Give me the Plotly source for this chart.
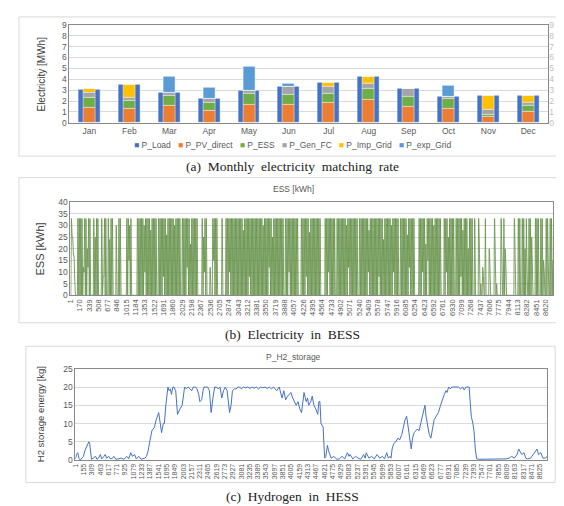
import plotly.graph_objects as go
import numpy as np

W, H = 564, 506

# ---------------- (a) monthly data [MWh] ----------------
months = ['Jan', 'Feb', 'Mar', 'Apr', 'May', 'Jun', 'Jul', 'Aug', 'Sep', 'Oct', 'Nov', 'Dec']
p_load = [3.05, 3.45, 2.75, 2.25, 2.95, 3.35, 3.70, 4.25, 3.15, 2.40, 2.45, 2.50]
p_pv_direct = [1.40, 1.30, 1.55, 1.15, 1.65, 1.70, 1.85, 2.15, 1.50, 1.25, 0.55, 1.00]
p_ess = [0.90, 0.70, 0.95, 0.70, 1.05, 0.90, 0.85, 1.00, 0.85, 0.95, 0.20, 0.55]
p_gen_fc = [0.50, 0.30, 0.25, 0.40, 0.25, 0.75, 0.65, 0.45, 0.75, 0.15, 0.45, 0.30]
p_imp_grid = [0.30, 1.15, 0.00, 0.00, 0.00, 0.00, 0.35, 0.65, 0.05, 0.00, 1.25, 0.65]
p_exp_grid = [0.00, 0.00, 1.45, 1.00, 2.15, 0.20, 0.00, 0.00, 0.00, 1.05, 0.00, 0.00]

# ---------------- (b) ESS daily peak / trough [kWh] ----------------
ess_day_peak = [
    33, 25, 17, 0, 0, 33, 33, 33, 33, 12, 33, 33, 20, 33, 33, 0, 0, 33, 25, 33,
    33, 0, 0, 33, 8, 33, 33, 0, 33, 24, 33, 33, 0, 0, 30, 0, 33, 33, 0, 0,
    0, 0, 33, 33, 30, 33, 0, 0, 0, 0, 33, 33, 33, 33, 33, 30, 33, 33, 33, 33,
    28, 33, 33, 33, 33, 0, 33, 33, 33, 33, 33, 33, 26, 33, 33, 33, 33, 33, 30, 33,
    33, 33, 33, 0, 33, 33, 33, 33, 33, 33, 22, 33, 33, 33, 33, 33, 0, 0, 0, 33,
    25, 33, 33, 0, 0, 12, 0, 33, 33, 33, 33, 0, 0, 0, 33, 0, 0, 33, 33, 33,
    33, 33, 33, 33, 33, 33, 33, 33, 33, 33, 28, 33, 33, 33, 33, 33, 33, 33, 33, 33,
    33, 33, 33, 33, 33, 30, 33, 33, 33, 33, 33, 33, 25, 33, 33, 33, 33, 33, 33, 33,
    33, 0, 33, 33, 33, 33, 33, 33, 33, 33, 33, 33, 0, 0, 33, 33, 33, 33, 33, 33,
    27, 33, 33, 33, 33, 33, 33, 33, 33, 0, 0, 0, 33, 33, 33, 33, 33, 33, 33, 33,
    0, 33, 33, 33, 33, 33, 33, 33, 30, 33, 33, 33, 33, 33, 33, 33, 33, 0, 33, 33,
    33, 33, 33, 33, 33, 28, 33, 33, 33, 33, 33, 33, 33, 33, 33, 33, 24, 33, 33, 33,
    33, 33, 30, 33, 33, 33, 33, 33, 0, 33, 33, 33, 33, 33, 26, 33, 33, 33, 33, 33,
    0, 0, 0, 33, 33, 33, 33, 33, 22, 33, 33, 33, 33, 33, 30, 33, 33, 33, 33, 33,
    0, 0, 33, 33, 33, 25, 33, 33, 33, 33, 0, 33, 33, 33, 33, 33, 28, 33, 33, 33,
    20, 33, 33, 33, 0, 33, 0, 0, 33, 0, 0, 12, 0, 33, 0, 0, 20, 0, 0, 0,
    33, 0, 0, 0, 0, 33, 0, 33, 20, 0, 0, 0, 0, 0, 0, 33, 0, 0, 33, 33,
    0, 33, 33, 20, 33, 0, 33, 33, 25, 0, 0, 33, 33, 33, 0, 33, 33, 15, 0, 33,
    33, 0, 33, 33, 15,
]
ess_low_days = [1, 2, 3, 10, 13, 25, 44, 56, 70, 88, 101, 108, 120, 135, 150, 165, 178, 195,
                210, 225, 233, 244, 256, 266, 270, 284, 295, 309, 310, 312, 317, 321, 322,
                326, 329, 336, 345, 349, 358, 361]
ess_low_vals = [25, 17, 6, 10, 12, 8, 15, 10, 8, 12, 10, 15, 10, 8, 12, 10, 8, 10,
                12, 10, 8, 10, 12, 10, 15, 10, 8, 18, 5, 8, 10, 15, 5,
                15, 12, 15, 10, 12, 10, 15]
ess_ticks = list(range(1, 8621, 169))

# ---------------- (c) H2 storage [kg] ----------------
h2_hours = [1, 20, 45, 65, 90, 120, 150, 175, 200, 225, 250, 265, 280, 300, 330, 375, 400, 430,
            463, 490, 530, 555, 580, 620, 650, 690, 715, 750, 800, 850, 900, 957, 990, 1030,
            1060, 1100, 1130, 1180, 1220, 1260, 1290, 1320, 1350, 1380, 1420, 1468, 1500, 1547,
            1570, 1600, 1633, 1652, 1679, 1718, 1740, 1764, 1784, 1810, 1830, 1863, 1896, 1920,
            1942, 1982, 2010, 2028, 2060, 2093, 2130, 2159, 2192, 2230, 2258, 2290, 2311, 2344,
            2370, 2390, 2420, 2455, 2488, 2521, 2554, 2587, 2620, 2650, 2686, 2718, 2750, 2784,
            2817, 2863, 2890, 2916, 2950, 2982, 3020, 3048, 3080, 3120, 3160, 3200, 3240, 3280,
            3320, 3360, 3400, 3440, 3480, 3520, 3560, 3600, 3640, 3680, 3706, 3738, 3784, 3837,
            3870, 3903, 3940, 3970, 4002, 4035, 4070, 4100, 4133, 4166, 4199, 4245, 4285, 4310,
            4331, 4370, 4397, 4429, 4462, 4480, 4500, 4520, 4540, 4560, 4580, 4600, 4615, 4630,
            4650, 4680, 4700, 4720, 4750, 4800, 4850, 4900, 4950, 5000, 5050, 5080, 5100, 5150,
            5200, 5250, 5300, 5350, 5380, 5400, 5450, 5500, 5550, 5600, 5650, 5700, 5740, 5780,
            5810, 5840, 5860, 5880, 5910, 5950, 5990, 6020, 6060, 6090, 6120, 6150, 6180, 6210,
            6235, 6260, 6290, 6320, 6350, 6380, 6410, 6440, 6470, 6490, 6510, 6540, 6570, 6600,
            6630, 6660, 6700, 6740, 6780, 6820, 6850, 6880, 6900, 6930, 6960, 6990, 7030, 7070,
            7110, 7150, 7190, 7220, 7250, 7280, 7310, 7330, 7350, 7380, 7400, 7425, 7450, 7500,
            7600, 7700, 7800, 7900, 8000, 8050, 8100, 8150, 8200, 8230, 8260, 8290, 8330, 8360,
            8400, 8450, 8500, 8540, 8570, 8600, 8640, 8680, 8720, 8760]
h2_vals = [0.3, 1.5, 2, 0.5, 0, 0.5, 1, 2.5, 3.5, 4, 5, 4.5, 3, 0.2, 0.5, 1, 0.2, 0.5,
           1.5, 0.3, 1, 1.5, 0.5, 1, 0.3, 0.5, 1, 0.2, 0.3, 0.5, 0.2, 1, 0.3, 2,
           1, 1.5, 0.3, 1, 0.2, 0.5, 0.5, 1, 2.5, 5, 8, 9, 11, 13,
           10, 7.5, 10, 10, 15, 20, 19, 19.5, 18, 20, 20, 19, 12.5, 13.5,
           14, 15, 18, 20, 19.5, 20, 19.5, 19, 20, 20, 19.5, 18, 16, 16.5,
           19, 20, 20, 20, 19, 13, 17, 20, 20, 19.5, 20, 17, 19, 20,
           19, 13, 15, 19, 19.5, 19.5, 20, 20, 19.5, 20, 19.8, 20, 19.6, 20,
           19.7, 20, 19.5, 20, 19.8, 20, 19.6, 20, 19.5, 20, 19.5, 19, 20, 17,
           19, 16.5, 17.5, 18, 18.5, 17, 16, 15, 16, 14, 13, 18.5, 16, 17,
           15, 16, 17.5, 15, 14, 13, 12.5, 16, 16, 10, 9.5, 9, 4, 0.5,
           1, 4, 2.5, 1.5, 0.5, 1, 0.2, 0.3, 1, 0.3, 2, 1, 1.5, 0.3,
           1, 0.5, 0.2, 1.5, 0.5, 2, 0.5, 1, 0.3, 1.5, 0.5, 1, 0.3, 2,
           0.5, 1, 0.5, 3, 4.5, 5, 6, 5.5, 7, 9, 11, 12, 9, 5,
           3, 6, 7.5, 8, 8.5, 8, 10, 12, 14, 15, 12, 9, 7, 6,
           9, 11, 12, 13, 15, 17, 18, 19, 18.5, 20, 19.5, 20, 20, 19.8,
           20, 19.5, 20, 19.2, 20, 20, 20, 16, 12, 10, 8, 3, 0.3, 0.2,
           0.2, 0.2, 0.1, 0.2, 0.3, 0.5, 1, 0.5, 1.5, 3, 2, 1.5, 2, 0.5,
           0.3, 0.5, 1.5, 2.5, 3, 1.5, 2, 0.5, 0.5, 1]
h2_ticks = list(range(1, 8626, 154))

# ---------------- helpers ----------------
def px(x):
    return x / W

def py(y):
    return 1 - y / H

FONT = "Liberation Sans Narrow, Liberation Sans, Arial, sans-serif"
SERIF = "Liberation Serif, DejaVu Serif, serif"
TICK = '#595959'
GRID = '#D9D9D9'
BOX = '#898989'

fig = go.Figure()

bar_line = dict(color='rgba(255,255,255,0.6)', width=0.8)
fig.add_trace(go.Bar(x=months, y=p_load, width=0.55, name='P_Load', showlegend=False,
                     marker=dict(color='#4472C4', line=bar_line), xaxis='x', yaxis='y'))
comp = [('P_PV_direct', p_pv_direct, '#ED7D31'),
        ('P_ESS', p_ess, '#70AD47'),
        ('P_Gen_FC', p_gen_fc, '#A5A5A5'),
        ('P_Imp_Grid', p_imp_grid, '#FFC000'),
        ('P_exp_Grid', p_exp_grid, '#5B9BD5')]
base = np.zeros(len(months))
for name, vals, col in comp:
    v = np.array(vals, dtype=float)
    fig.add_trace(go.Bar(x=months, y=v, base=base.copy(), width=0.30, name=name, showlegend=False,
                         marker=dict(color=col, line=bar_line), xaxis='x', yaxis='y'))
    base = base + v

ess_low = np.zeros(len(ess_day_peak))
for d, v in zip(ess_low_days, ess_low_vals):
    ess_low[d] = v
ess_x, ess_y = [], []
for d, pk in enumerate(ess_day_peak):
    ess_x += [d * 24 + 7, d * 24 + 14, d * 24 + 18]
    ess_y += [ess_low[d], pk, pk]
fig.add_trace(go.Scatter(x=ess_x, y=ess_y, mode='lines', showlegend=False,
                         line=dict(color='#558636', width=0.9), opacity=0.85,
                         xaxis='x2', yaxis='y3'))

fig.add_trace(go.Scatter(x=h2_hours, y=h2_vals, mode='lines', showlegend=False,
                         line=dict(color='#4472C4', width=1),
                         xaxis='x3', yaxis='y4'))

fig.add_trace(go.Scatter(x=months, y=[None] * 12, xaxis='x', yaxis='y2', showlegend=False,
                         hoverinfo='skip'))

ax_common = dict(showline=True, linecolor=BOX, linewidth=1, mirror=True,
                 tickfont=dict(family=FONT, size=8.5, color=TICK), ticks='', zeroline=False)

# vertical layout (pixels from top)
A_TOP, A_BOT = 12, 112
B_TOP, B_BOT = 193, 288
C_TOP, C_BOT = 363, 456

fig.update_layout(
    width=W, height=H, margin=dict(l=0, r=0, t=0, b=0),
    paper_bgcolor='white', plot_bgcolor='white',
    barmode='overlay', bargap=0, showlegend=False,
    font=dict(family=FONT, color=TICK),
    xaxis=dict(domain=[px(57), px(540)], anchor='y', type='category',
               range=[-0.5, 11.5], showgrid=False, **ax_common),
    yaxis=dict(domain=[py(A_BOT), py(A_TOP)], anchor='x', range=[0, 9], dtick=1,
               showgrid=True, gridcolor=GRID, **ax_common),
    yaxis2=dict(overlaying='y', side='right', anchor='x', range=[0, 9], dtick=1,
                showgrid=False, showline=False, zeroline=False, ticks='',
                tickfont=dict(family=FONT, size=8.5, color='#BFBFBF')),
    xaxis2=dict(domain=[px(58), px(545)], anchor='y3', range=[1, 8760],
                tickvals=ess_ticks, ticktext=[str(t) for t in ess_ticks], tickangle=-90,
                showgrid=False, showline=True, linecolor=BOX, mirror=True, ticks='',
                zeroline=False, tickfont=dict(family=FONT, size=7.5, color=TICK)),
    yaxis3=dict(domain=[py(B_BOT), py(B_TOP)], anchor='x2', range=[0, 40], dtick=5,
                showgrid=True, gridcolor=GRID, **ax_common),
    xaxis3=dict(domain=[px(63), px(539)], anchor='y4', range=[1, 8760],
                tickvals=h2_ticks, ticktext=[str(t) for t in h2_ticks], tickangle=-90,
                showgrid=False, showline=True, linecolor=BOX, mirror=True, ticks='',
                zeroline=False, tickfont=dict(family=FONT, size=7, color=TICK)),
    yaxis4=dict(domain=[py(C_BOT), py(C_TOP)], anchor='x3', range=[0, 25], dtick=5,
                showgrid=True, gridcolor=GRID, **ax_common),
)

for (x0, y0, x1, y1) in [(6, 4, 556, 146), (6, 168, 553, 316), (13, 340, 547, 479)]:
    fig.add_shape(type='rect', xref='paper', yref='paper', x0=px(x0), x1=px(x1),
                  y0=py(y1), y1=py(y0), line=dict(color='#D9D9D9', width=1))

legend_names = ['P_Load', 'P_PV_direct', 'P_ESS', 'P_Gen_FC', 'P_Imp_Grid', 'P_exp_Grid']
legend_colors = ['#4472C4', '#ED7D31', '#70AD47', '#A5A5A5', '#FFC000', '#5B9BD5']
legend_text = '\u00a0\u00a0\u00a0'.join(
    f'<span style="color:{c}">\u25A0</span> {n}' for n, c in zip(legend_names, legend_colors))

ann = []
ann.append(dict(text=legend_text, x=px(282), y=py(135),
                font=dict(family=FONT, size=8.5, color=TICK)))
ann.append(dict(text='Electricity [MWh]', x=px(29), y=py((A_TOP + A_BOT) / 2), textangle=-90,
                font=dict(family=FONT, size=10, color='#404040')))
ann.append(dict(text='ESS [kWh]', x=px(27), y=py((B_TOP + B_BOT) / 2), textangle=-90,
                font=dict(family=FONT, size=11, color='#404040')))
ann.append(dict(text='H2 storage energy [kg]', x=px(28), y=py((C_TOP + C_BOT) / 2), textangle=-90,
                font=dict(family=FONT, size=9.5, color='#404040')))
ann.append(dict(text='ESS [kWh]', x=px(283), y=py(180),
                font=dict(family=FONT, size=8.5, color=TICK)))
ann.append(dict(text='P_H2_storage', x=px(283), y=py(351),
                font=dict(family=FONT, size=8.5, color=TICK)))
ann.append(dict(text='(a)\u00a0 Monthly\u00a0 electricity\u00a0 matching\u00a0 rate', x=px(282), y=py(157),
                font=dict(family=SERIF, size=13.5, color='#222222')))
ann.append(dict(text='(b)\u00a0 Electricity\u00a0 in\u00a0 BESS', x=px(282), y=py(328),
                font=dict(family=SERIF, size=13.5, color='#222222')))
ann.append(dict(text='(c)\u00a0 Hydrogen\u00a0 in\u00a0 HESS', x=px(282), y=py(493),
                font=dict(family=SERIF, size=13.5, color='#222222')))
for a in ann:
    a.update(xref='paper', yref='paper', showarrow=False, xanchor='center', yanchor='middle')
    fig.add_annotation(**a)

fig.write_html("out.html")
